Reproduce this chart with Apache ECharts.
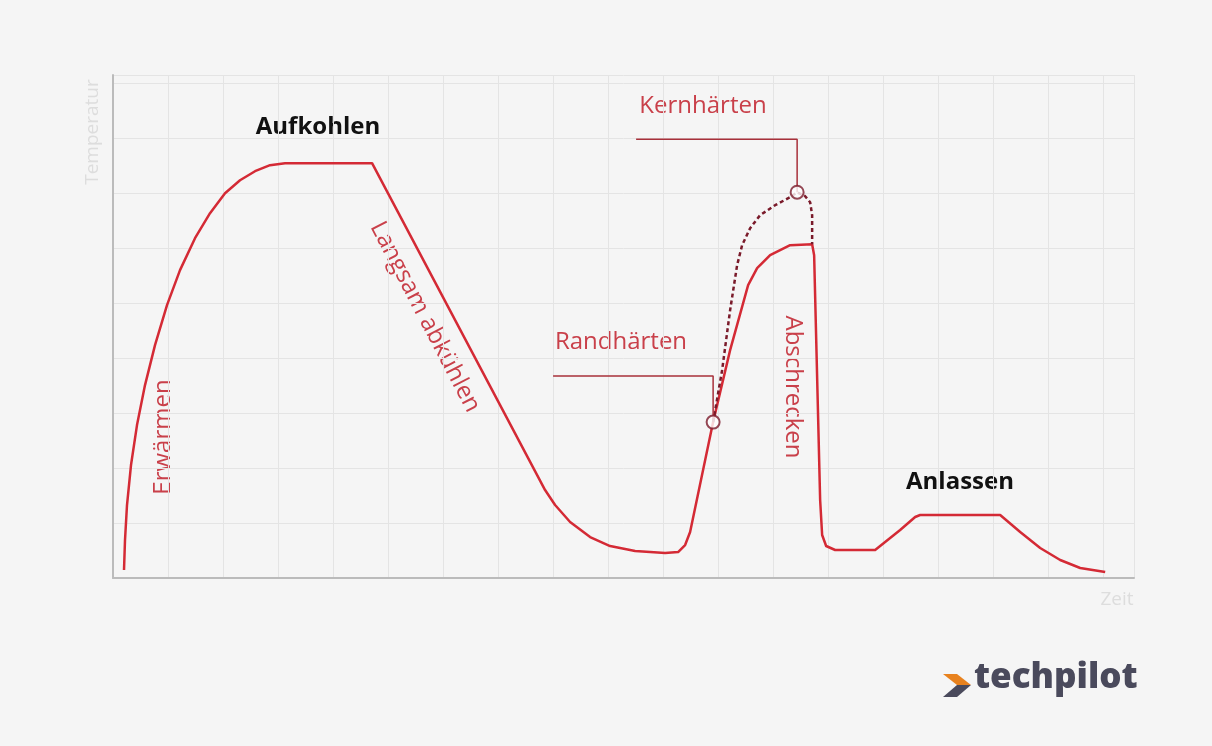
<!DOCTYPE html><html><head><meta charset="utf-8"><script src="https://cdn.jsdelivr.net/npm/echarts@6/dist/echarts.min.js"></script>
<style>body{margin:0;background:#f5f5f5}#c{width:1212px;height:746px}</style></head><body><div id="c"></div><script>
// pixel-read points converted to axis units (55px per unit, origin at 113,578)
const mainPx=[[124,570],[125,540],[127,505],[131,465],[137,425],[145,385],[155,345],[167,305],[180,270],[195,238],[210,213],[225,193],[240,180],[255,171],[270,165],[285,163],[372,163],[545,490],[555,505],[570,522],[590,537],[610,546],[635,551],[665,553],[678,552],[685,545],[690,532],[713,422],[730,350],[748,285],[757,268],[770,255],[790,245],[812,244],[814,255],[820,500],[822,535],[826,546],[835,550],[875,550],[900,530],[915,517],[920,515],[1000,515],[1020,532],[1040,548],[1060,560],[1080,568],[1105,572]];
const dashPx=[[713,422],[722,370],[730,310],[737,265],[742,245],[750,228],[760,215],[775,205],[790,197],[797,192],[805,196],[810,202],[812,215],[812,244]];
const markPx=[[713,422],[797,192]];
const randPx=[[553,376],[713,376],[713,422]];
const kernPx=[[636,139],[797,139],[797,192]];
const cv=p=>p.map(([x,y])=>[(x-113)/55,(578-y)/55]);
const red='#d42a35',dark='#7a1a2a',lbl='#c9404a';
const ch=echarts.init(document.getElementById('c'));
const txt=(t,x,y,o)=>Object.assign({type:'text',x,y,rotation:o&&o.r||0,style:{text:t,fill:o&&o.c||lbl,font:(o&&o.w||'normal')+' '+(o&&o.s||24)+'px "Open Sans"',align:'center',verticalAlign:'middle'}});
ch.setOption({backgroundColor:'#f5f5f5',animation:false,
grid:{left:113,right:78,top:75,bottom:168},
xAxis:{type:'value',min:0,max:18.56,interval:1,axisLabel:{show:false},axisTick:{show:false},axisLine:{lineStyle:{color:'#bbb',width:2}},splitLine:{lineStyle:{color:'#e4e4e4'}}},
yAxis:{type:'value',min:0,max:9.15,interval:1,axisLabel:{show:false},axisTick:{show:false},axisLine:{show:true,lineStyle:{color:'#bbb',width:2}},splitLine:{lineStyle:{color:'#e4e4e4'}}},
series:[
{type:'line',data:cv(mainPx),symbol:'none',lineStyle:{color:red,width:2.5,join:'round'}},
{type:'line',data:cv(dashPx),symbol:'none',lineStyle:{color:dark,width:2.5,type:[4,3]}},
{type:'line',data:cv(randPx),symbol:'none',lineStyle:{color:'#a8303a',width:1.5}},
{type:'line',data:cv(kernPx),symbol:'none',lineStyle:{color:'#a8303a',width:1.5}},
{type:'scatter',data:cv(markPx),symbolSize:13,itemStyle:{color:'#fff',borderColor:dark,borderWidth:2},z:5}
],
graphic:[
txt('Aufkohlen',318,127,{c:'#111',w:'bold'}),
txt('Anlassen',960,482,{c:'#111',w:'bold'}),
txt('Kernhärten',703,106),
txt('Randhärten',621,342),
txt('Erwärmen',163,437,{r:Math.PI/2}),
txt('Langsam abkühlen',425,317,{r:-1.09}),
txt('Abschrecken',793,387,{r:-Math.PI/2}),
txt('Temperatur',93,132,{r:Math.PI/2,c:'#ddd',s:19}),
txt('Zeit',1117,600,{c:'#ddd',s:19}),
{type:'polygon',shape:{points:[[943,674],[957,674],[971,685],[957,685]]},style:{fill:'#e8821e'}},
{type:'polygon',shape:{points:[[957,685],[971,685],[957,697],[943,697]]},style:{fill:'#4a4a5c'}},
{type:'text',x:974,y:678,style:{text:'techpilot',fill:'#4a4a5c',font:'800 35px "Open Sans"',verticalAlign:'middle'}}
]});
</script></body></html>
